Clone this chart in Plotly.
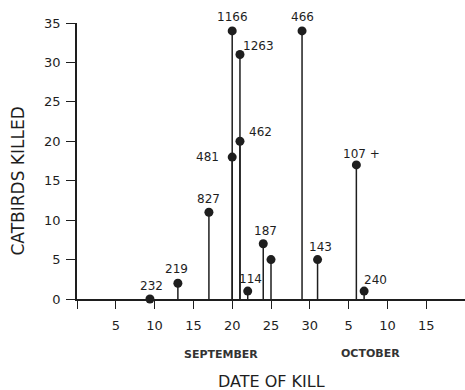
import plotly.graph_objects as go

# Day numbering: September day d -> d ; October day d -> 30 + d
days = [9.4, 13, 17, 20, 20, 21, 21, 22, 24, 25, 29, 31, 36, 37]
killed = [0, 2, 11, 34, 18, 31, 20, 1, 7, 5, 34, 5, 17, 1]
labels = ["232", "219", "827", "1166", "481", "1263", "462", "114", "187", "", "466", "143", "107 +", "240"]

tick_vals = [0, 5, 10, 15, 20, 25, 30, 35, 40, 45]
tick_text = ["", "5", "10", "15", "20", "25", "30", "5", "10", "15"]
y_ticks = [0, 5, 10, 15, 20, 25, 30, 35]

# label placement style (anchor, xshift, yshift) in pixels
label_style = {
    "232": ("center", 1.5, 13),
    "219": ("center", -1, 14.5),
    "827": ("center", 0, 13),
    "1166": ("center", 0, 13.5),
    "481": ("right", -11, 0),
    "1263": ("left", 1.5, 9),
    "462": ("left", 7, 9.5),
    "114": ("center", 2.5, 12.5),
    "187": ("center", 2, 12.5),
    "466": ("center", 0, 13.5),
    "143": ("center", 2.7, 12.5),
    "107 +": ("center", 5.5, 10.5),
    "240": ("center", 11, 11.5),
}

INK = "#1e1e1e"
FONT = "DejaVu Sans"

stem_x, stem_y = [], []
for d, v in zip(days, killed):
    stem_x += [d, d, None]
    stem_y += [0, v, None]

fig = go.Figure()
fig.add_trace(go.Scatter(x=stem_x, y=stem_y, mode="lines",
                         line=dict(color=INK, width=1.5), hoverinfo="skip",
                         cliponaxis=False))
fig.add_trace(go.Scatter(x=days, y=killed, mode="markers",
                         marker=dict(color=INK, size=9), cliponaxis=False))

for d, v, lab in zip(days, killed, labels):
    if not lab:
        continue
    anchor, dx, dy = label_style[lab]
    fig.add_annotation(x=d, y=v, xref="x", yref="y", text=lab, showarrow=False,
                       xanchor=anchor, yanchor="middle", xshift=dx, yshift=dy,
                       font=dict(family=FONT, size=12, color=INK))

fig.add_annotation(x=18.5, y=0, xref="x", yref="y", text="<b>SEPTEMBER</b>", showarrow=False,
                   xanchor="center", yanchor="middle", yshift=-55,
                   font=dict(family=FONT, size=11, color="#333333"))
fig.add_annotation(x=37.8, y=0, xref="x", yref="y", text="<b>OCTOBER</b>", showarrow=False,
                   xanchor="center", yanchor="middle", yshift=-54,
                   font=dict(family=FONT, size=11, color="#333333"))
fig.add_annotation(x=0.5, y=0, xref="paper", yref="y", text="DATE OF KILL", showarrow=False,
                   xanchor="center", yanchor="middle", yshift=-82.5,
                   font=dict(family=FONT, size=16, color=INK))
fig.add_annotation(x=0, y=14.9, xref="paper", yref="y", text="CATBIRDS KILLED", showarrow=False,
                   xanchor="center", yanchor="middle", xshift=-60, textangle=-90,
                   font=dict(family=FONT, size=17, color=INK))

fig.update_layout(
    width=465, height=390,
    margin=dict(l=77, r=0, t=23, b=91),
    paper_bgcolor="white", plot_bgcolor="white",
    showlegend=False,
    font=dict(family=FONT, size=12, color=INK),
)
fig.update_xaxes(range=[0, 50], tickvals=tick_vals, ticktext=tick_text,
                 showgrid=False, zeroline=False, showline=True, linecolor=INK, linewidth=1.6,
                 ticks="outside", ticklen=8, tickwidth=1.4, tickcolor=INK,
                 ticklabelstandoff=6, tickfont=dict(family=FONT, size=13, color=INK))
fig.update_yaxes(range=[0, 35], tickvals=y_ticks,
                 showgrid=False, zeroline=False, showline=True, linecolor=INK, linewidth=1.6,
                 ticks="outside", ticklen=9, tickwidth=1.4, tickcolor=INK,
                 ticklabelstandoff=3, tickfont=dict(family=FONT, size=13, color=INK))

fig.write_html("out.html")
